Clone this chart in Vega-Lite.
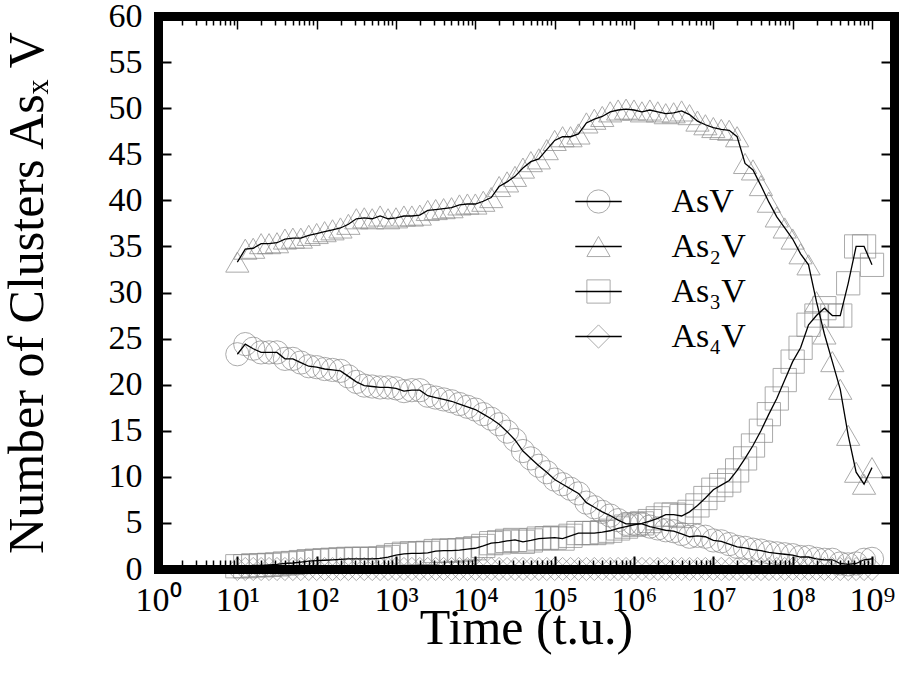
{
"$schema": "https://vega.github.io/schema/vega-lite/v6.json",
"width": 736, "height": 553,
"autosize": {"type": "none"},
"padding": {"left": 158, "top": 16, "right": 5, "bottom": 118},
"background": "white",
"config": {"view": {"stroke": null}, "font": "Liberation Serif",
  "axis": {"labelFont": "Liberation Serif", "titleFont": "Liberation Serif", "labelColor": "black", "titleColor": "black", "tickColor": "black", "domainColor": "black", "grid": false, "titleFontWeight": "normal"},
  "legend": {"labelFont": "Liberation Serif", "labelColor": "black"},
  "text": {"font": "Liberation Serif"}},
"data": {"values": [
{"s":"AsV","t":10,"n":23.3},{"s":"AsV","t":12.59,"n":24.4},{"s":"AsV","t":15.85,"n":23.9},{"s":"AsV","t":19.95,"n":23.5},{"s":"AsV","t":25.12,"n":23.5},{"s":"AsV","t":31.62,"n":23.5},{"s":"AsV","t":39.81,"n":22.8},{"s":"AsV","t":50.12,"n":22.8},{"s":"AsV","t":63.1,"n":22.4},{"s":"AsV","t":79.43,"n":22.0},
{"s":"AsV","t":100,"n":21.9},{"s":"AsV","t":125.9,"n":21.7},{"s":"AsV","t":158.5,"n":21.6},{"s":"AsV","t":199.5,"n":21.5},{"s":"AsV","t":251.2,"n":20.9},{"s":"AsV","t":316.2,"n":20.3},{"s":"AsV","t":398.1,"n":19.9},{"s":"AsV","t":501.2,"n":19.8},{"s":"AsV","t":631,"n":19.7},{"s":"AsV","t":794.3,"n":19.7},
{"s":"AsV","t":1000,"n":19.6},{"s":"AsV","t":1259,"n":19.3},{"s":"AsV","t":1585,"n":19.4},{"s":"AsV","t":1995,"n":19.4},{"s":"AsV","t":2512,"n":18.8},{"s":"AsV","t":3162,"n":18.6},{"s":"AsV","t":3981,"n":18.4},{"s":"AsV","t":5012,"n":18.2},{"s":"AsV","t":6310,"n":17.9},{"s":"AsV","t":7943,"n":17.6},
{"s":"AsV","t":10000,"n":17.3},{"s":"AsV","t":12590,"n":16.8},{"s":"AsV","t":15850,"n":16.3},{"s":"AsV","t":19950,"n":15.7},{"s":"AsV","t":25120,"n":14.9},{"s":"AsV","t":31620,"n":14.0},{"s":"AsV","t":39810,"n":12.8},{"s":"AsV","t":50120,"n":12.0},{"s":"AsV","t":63100,"n":11.2},{"s":"AsV","t":79430,"n":10.5},
{"s":"AsV","t":100000,"n":9.7},{"s":"AsV","t":125900,"n":9.2},{"s":"AsV","t":158500,"n":8.7},{"s":"AsV","t":199500,"n":8.2},{"s":"AsV","t":251200,"n":7.2},{"s":"AsV","t":316200,"n":6.7},{"s":"AsV","t":398100,"n":6.2},{"s":"AsV","t":501200,"n":5.8},{"s":"AsV","t":631000,"n":5.3},{"s":"AsV","t":794300,"n":4.9},
{"s":"AsV","t":1000000,"n":4.9},{"s":"AsV","t":1259000,"n":4.9},{"s":"AsV","t":1585000,"n":4.6},{"s":"AsV","t":1995000,"n":4.4},{"s":"AsV","t":2512000,"n":4.2},{"s":"AsV","t":3162000,"n":4.1},{"s":"AsV","t":3981000,"n":3.8},{"s":"AsV","t":5012000,"n":3.5},{"s":"AsV","t":6310000,"n":3.6},{"s":"AsV","t":7943000,"n":3.5},
{"s":"AsV","t":1e7,"n":3.1},{"s":"AsV","t":1.259e7,"n":3.0},{"s":"AsV","t":1.585e7,"n":2.7},{"s":"AsV","t":1.995e7,"n":2.4},{"s":"AsV","t":2.512e7,"n":2.3},{"s":"AsV","t":3.162e7,"n":2.1},{"s":"AsV","t":3.981e7,"n":2.0},{"s":"AsV","t":5.012e7,"n":1.8},{"s":"AsV","t":6.31e7,"n":1.7},{"s":"AsV","t":7.943e7,"n":1.6},
{"s":"AsV","t":1e8,"n":1.5},{"s":"AsV","t":1.259e8,"n":1.3},{"s":"AsV","t":1.585e8,"n":1.3},{"s":"AsV","t":1.995e8,"n":1.1},{"s":"AsV","t":2.512e8,"n":1.0},{"s":"AsV","t":3.162e8,"n":1.0},{"s":"AsV","t":3.981e8,"n":0.6},{"s":"AsV","t":5.012e8,"n":0.5},{"s":"AsV","t":6.31e8,"n":0.6},{"s":"AsV","t":7.943e8,"n":1.0},
{"s":"AsV","t":1e9,"n":1.1},
{"s":"As₂V","t":10,"n":33.3},{"s":"As₂V","t":12.59,"n":34.7},{"s":"As₂V","t":15.85,"n":34.8},{"s":"As₂V","t":19.95,"n":35.3},{"s":"As₂V","t":25.12,"n":35.3},{"s":"As₂V","t":31.62,"n":35.4},{"s":"As₂V","t":39.81,"n":35.8},{"s":"As₂V","t":50.12,"n":35.9},{"s":"As₂V","t":63.1,"n":35.9},{"s":"As₂V","t":79.43,"n":36.2},
{"s":"As₂V","t":100,"n":36.4},{"s":"As₂V","t":125.9,"n":36.6},{"s":"As₂V","t":158.5,"n":36.8},{"s":"As₂V","t":199.5,"n":37.0},{"s":"As₂V","t":251.2,"n":37.4},{"s":"As₂V","t":316.2,"n":38.0},{"s":"As₂V","t":398.1,"n":38.1},{"s":"As₂V","t":501.2,"n":38.0},{"s":"As₂V","t":631,"n":38.3},{"s":"As₂V","t":794.3,"n":38.0},
{"s":"As₂V","t":1000,"n":38.1},{"s":"As₂V","t":1259,"n":38.3},{"s":"As₂V","t":1585,"n":38.3},{"s":"As₂V","t":1995,"n":38.4},{"s":"As₂V","t":2512,"n":38.9},{"s":"As₂V","t":3162,"n":39.0},{"s":"As₂V","t":3981,"n":39.1},{"s":"As₂V","t":5012,"n":39.2},{"s":"As₂V","t":6310,"n":39.5},{"s":"As₂V","t":7943,"n":39.6},
{"s":"As₂V","t":10000,"n":39.6},{"s":"As₂V","t":12590,"n":39.9},{"s":"As₂V","t":15850,"n":40.3},{"s":"As₂V","t":19950,"n":41.5},{"s":"As₂V","t":25120,"n":42.0},{"s":"As₂V","t":31620,"n":42.6},{"s":"As₂V","t":39810,"n":43.5},{"s":"As₂V","t":50120,"n":44.2},{"s":"As₂V","t":63100,"n":44.5},{"s":"As₂V","t":79430,"n":45.5},
{"s":"As₂V","t":100000,"n":46.5},{"s":"As₂V","t":125900,"n":46.9},{"s":"As₂V","t":158500,"n":46.9},{"s":"As₂V","t":199500,"n":47.2},{"s":"As₂V","t":251200,"n":48.4},{"s":"As₂V","t":316200,"n":48.8},{"s":"As₂V","t":398100,"n":49.1},{"s":"As₂V","t":501200,"n":49.6},{"s":"As₂V","t":631000,"n":49.8},{"s":"As₂V","t":794300,"n":49.9},
{"s":"As₂V","t":1000000,"n":49.8},{"s":"As₂V","t":1259000,"n":49.6},{"s":"As₂V","t":1585000,"n":49.8},{"s":"As₂V","t":1995000,"n":49.6},{"s":"As₂V","t":2512000,"n":49.4},{"s":"As₂V","t":3162000,"n":49.5},{"s":"As₂V","t":3981000,"n":49.7},{"s":"As₂V","t":5012000,"n":49.3},{"s":"As₂V","t":6310000,"n":48.6},{"s":"As₂V","t":7943000,"n":48.2},
{"s":"As₂V","t":1e7,"n":47.9},{"s":"As₂V","t":1.259e7,"n":47.7},{"s":"As₂V","t":1.585e7,"n":47.6},{"s":"As₂V","t":1.995e7,"n":46.9},{"s":"As₂V","t":2.512e7,"n":44.0},{"s":"As₂V","t":3.162e7,"n":43.3},{"s":"As₂V","t":3.981e7,"n":41.6},{"s":"As₂V","t":5.012e7,"n":39.8},{"s":"As₂V","t":6.31e7,"n":38.2},{"s":"As₂V","t":7.943e7,"n":37.0},
{"s":"As₂V","t":1e8,"n":35.8},{"s":"As₂V","t":1.259e8,"n":34.2},{"s":"As₂V","t":1.585e8,"n":33.0},{"s":"As₂V","t":1.995e8,"n":29.0},{"s":"As₂V","t":2.512e8,"n":25.5},{"s":"As₂V","t":3.162e8,"n":22.5},{"s":"As₂V","t":3.981e8,"n":19.5},{"s":"As₂V","t":5.012e8,"n":14.5},{"s":"As₂V","t":6.31e8,"n":10.5},{"s":"As₂V","t":7.943e8,"n":9.2},
{"s":"As₂V","t":1e9,"n":11.0},
{"s":"As₃V","t":10,"n":0.3},{"s":"As₃V","t":12.59,"n":0.3},{"s":"As₃V","t":15.85,"n":0.4},{"s":"As₃V","t":19.95,"n":0.4},{"s":"As₃V","t":25.12,"n":0.45},{"s":"As₃V","t":31.62,"n":0.5},{"s":"As₃V","t":39.81,"n":0.6},{"s":"As₃V","t":50.12,"n":0.65},{"s":"As₃V","t":63.1,"n":0.75},{"s":"As₃V","t":79.43,"n":0.85},
{"s":"As₃V","t":100,"n":0.9},{"s":"As₃V","t":125.9,"n":0.95},{"s":"As₃V","t":158.5,"n":1.0},{"s":"As₃V","t":199.5,"n":1.05},{"s":"As₃V","t":251.2,"n":1.1},{"s":"As₃V","t":316.2,"n":1.1},{"s":"As₃V","t":398.1,"n":1.1},{"s":"As₃V","t":501.2,"n":1.1},{"s":"As₃V","t":631,"n":1.15},{"s":"As₃V","t":794.3,"n":1.3},
{"s":"As₃V","t":1000,"n":1.5},{"s":"As₃V","t":1259,"n":1.65},{"s":"As₃V","t":1585,"n":1.7},{"s":"As₃V","t":1995,"n":1.7},{"s":"As₃V","t":2512,"n":1.75},{"s":"As₃V","t":3162,"n":1.95},{"s":"As₃V","t":3981,"n":2.0},{"s":"As₃V","t":5012,"n":2.0},{"s":"As₃V","t":6310,"n":2.05},{"s":"As₃V","t":7943,"n":2.15},
{"s":"As₃V","t":10000,"n":2.25},{"s":"As₃V","t":12590,"n":2.5},{"s":"As₃V","t":15850,"n":2.8},{"s":"As₃V","t":19950,"n":2.9},{"s":"As₃V","t":25120,"n":3.05},{"s":"As₃V","t":31620,"n":3.15},{"s":"As₃V","t":39810,"n":2.95},{"s":"As₃V","t":50120,"n":3.1},{"s":"As₃V","t":63100,"n":3.3},{"s":"As₃V","t":79430,"n":3.35},
{"s":"As₃V","t":100000,"n":3.4},{"s":"As₃V","t":125900,"n":3.3},{"s":"As₃V","t":158500,"n":3.6},{"s":"As₃V","t":199500,"n":3.9},{"s":"As₃V","t":251200,"n":3.9},{"s":"As₃V","t":316200,"n":3.9},{"s":"As₃V","t":398100,"n":4.0},{"s":"As₃V","t":501200,"n":4.15},{"s":"As₃V","t":631000,"n":4.4},{"s":"As₃V","t":794300,"n":4.6},
{"s":"As₃V","t":1000000,"n":4.8},{"s":"As₃V","t":1259000,"n":4.95},{"s":"As₃V","t":1585000,"n":5.2},{"s":"As₃V","t":1995000,"n":5.5},{"s":"As₃V","t":2512000,"n":5.9},{"s":"As₃V","t":3162000,"n":5.9},{"s":"As₃V","t":3981000,"n":5.75},{"s":"As₃V","t":5012000,"n":6.2},{"s":"As₃V","t":6310000,"n":6.9},{"s":"As₃V","t":7943000,"n":7.7},
{"s":"As₃V","t":1e7,"n":8.6},{"s":"As₃V","t":1.259e7,"n":9.1},{"s":"As₃V","t":1.585e7,"n":9.6},{"s":"As₃V","t":1.995e7,"n":10.7},{"s":"As₃V","t":2.512e7,"n":12.0},{"s":"As₃V","t":3.162e7,"n":13.4},{"s":"As₃V","t":3.981e7,"n":15.0},{"s":"As₃V","t":5.012e7,"n":16.8},{"s":"As₃V","t":6.31e7,"n":18.5},{"s":"As₃V","t":7.943e7,"n":20.5},
{"s":"As₃V","t":1e8,"n":22.5},{"s":"As₃V","t":1.259e8,"n":24.0},{"s":"As₃V","t":1.585e8,"n":26.5},{"s":"As₃V","t":1.995e8,"n":27.5},{"s":"As₃V","t":2.512e8,"n":28.3},{"s":"As₃V","t":3.162e8,"n":27.5},{"s":"As₃V","t":3.981e8,"n":27.5},{"s":"As₃V","t":5.012e8,"n":31.0},{"s":"As₃V","t":6.31e8,"n":35.0},{"s":"As₃V","t":7.943e8,"n":35.0},
{"s":"As₃V","t":1e9,"n":33.0},
{"s":"As₄V","t":10,"n":0},{"s":"As₄V","t":12.59,"n":0},{"s":"As₄V","t":15.85,"n":0},{"s":"As₄V","t":19.95,"n":0},{"s":"As₄V","t":25.12,"n":0},{"s":"As₄V","t":31.62,"n":0},{"s":"As₄V","t":39.81,"n":0},{"s":"As₄V","t":50.12,"n":0},{"s":"As₄V","t":63.1,"n":0},{"s":"As₄V","t":79.43,"n":0},
{"s":"As₄V","t":100,"n":0},{"s":"As₄V","t":125.9,"n":0},{"s":"As₄V","t":158.5,"n":0},{"s":"As₄V","t":199.5,"n":0},{"s":"As₄V","t":251.2,"n":0},{"s":"As₄V","t":316.2,"n":0},{"s":"As₄V","t":398.1,"n":0},{"s":"As₄V","t":501.2,"n":0},{"s":"As₄V","t":631,"n":0},{"s":"As₄V","t":794.3,"n":0},
{"s":"As₄V","t":1000,"n":0},{"s":"As₄V","t":1259,"n":0},{"s":"As₄V","t":1585,"n":0},{"s":"As₄V","t":1995,"n":0},{"s":"As₄V","t":2512,"n":0},{"s":"As₄V","t":3162,"n":0},{"s":"As₄V","t":3981,"n":0},{"s":"As₄V","t":5012,"n":0},{"s":"As₄V","t":6310,"n":0},{"s":"As₄V","t":7943,"n":0},
{"s":"As₄V","t":10000,"n":0},{"s":"As₄V","t":12590,"n":0},{"s":"As₄V","t":15850,"n":0},{"s":"As₄V","t":19950,"n":0},{"s":"As₄V","t":25120,"n":0},{"s":"As₄V","t":31620,"n":0},{"s":"As₄V","t":39810,"n":0},{"s":"As₄V","t":50120,"n":0},{"s":"As₄V","t":63100,"n":0},{"s":"As₄V","t":79430,"n":0},
{"s":"As₄V","t":100000,"n":0},{"s":"As₄V","t":125900,"n":0},{"s":"As₄V","t":158500,"n":0},{"s":"As₄V","t":199500,"n":0},{"s":"As₄V","t":251200,"n":0},{"s":"As₄V","t":316200,"n":0},{"s":"As₄V","t":398100,"n":0},{"s":"As₄V","t":501200,"n":0},{"s":"As₄V","t":631000,"n":0},{"s":"As₄V","t":794300,"n":0},
{"s":"As₄V","t":1000000,"n":0},{"s":"As₄V","t":1259000,"n":0},{"s":"As₄V","t":1585000,"n":0},{"s":"As₄V","t":1995000,"n":0},{"s":"As₄V","t":2512000,"n":0},{"s":"As₄V","t":3162000,"n":0},{"s":"As₄V","t":3981000,"n":0},{"s":"As₄V","t":5012000,"n":0},{"s":"As₄V","t":6310000,"n":0},{"s":"As₄V","t":7943000,"n":0},
{"s":"As₄V","t":1e7,"n":0},{"s":"As₄V","t":1.259e7,"n":0},{"s":"As₄V","t":1.585e7,"n":0},{"s":"As₄V","t":1.995e7,"n":0},{"s":"As₄V","t":2.512e7,"n":0},{"s":"As₄V","t":3.162e7,"n":0},{"s":"As₄V","t":3.981e7,"n":0},{"s":"As₄V","t":5.012e7,"n":0},{"s":"As₄V","t":6.31e7,"n":0},{"s":"As₄V","t":7.943e7,"n":0},
{"s":"As₄V","t":1e8,"n":0},{"s":"As₄V","t":1.259e8,"n":0},{"s":"As₄V","t":1.585e8,"n":0},{"s":"As₄V","t":1.995e8,"n":0},{"s":"As₄V","t":2.512e8,"n":0},{"s":"As₄V","t":3.162e8,"n":0},{"s":"As₄V","t":3.981e8,"n":0},{"s":"As₄V","t":5.012e8,"n":0},{"s":"As₄V","t":6.31e8,"n":0},{"s":"As₄V","t":7.943e8,"n":0},
{"s":"As₄V","t":1e9,"n":0}
]},
"layer": [
{
"mark": {"type": "point", "filled": false, "color": "#888888", "size": 540, "strokeWidth": 1, "clip": false},
"encoding": {
  "x": {"field": "t", "type": "quantitative", "scale": {"type": "log", "domain": [1, 1.894e9], "nice": false},
    "axis": {"orient": "bottom", "values": [1,10,100,1000,10000,100000,1000000,1e7,1e8,1e9], "tickSize": -13, "tickWidth": 2,
      "labelExpr": "'10' + ['⁰','¹','²','³','⁴','⁵','⁶','⁷','⁸','⁹'][round(log(datum.value)/LN10)]",
      "labelFont": "Liberation Serif", "labelFontSize": 34, "labelPadding": 27, "labelFlush": false, "labelOverlap": false,
      "domain": true, "domainWidth": 9, "domainCap": "square",
      "title": "Time (t.u.)", "titleFont": "Liberation Serif", "titleFontSize": 50, "titlePadding": -14, "zindex": 1}},
  "y": {"field": "n", "type": "quantitative", "scale": {"domain": [0, 60], "nice": false, "zero": false},
    "axis": {"orient": "left", "values": [0,5,10,15,20,25,30,35,40,45,50,55,60], "tickSize": -13, "tickWidth": 2,
      "labelFont": "Liberation Serif", "labelFontSize": 34, "labelPadding": 29, "labelFlush": false, "labelOverlap": false,
      "domain": true, "domainWidth": 9, "domainCap": "square",
      "title": "Number of Clusters Asₓ V", "titleFont": "Liberation Serif", "titleFontSize": 50, "titlePadding": 56, "zindex": 1}},
  "shape": {"field": "s", "type": "nominal",
    "scale": {"domain": ["AsV","As₂V","As₃V","As₄V"], "range": ["circle","triangle-up","square","diamond"]},
    "legend": {"orient": "none", "legendX": 423.5, "legendY": 168.5, "title": null, "padding": 0,
      "symbolSize": 540, "symbolStrokeColor": "#888888", "symbolFillColor": "transparent", "symbolStrokeWidth": 1,
      "labelFont": "Liberation Serif", "labelFontSize": 34, "labelOpacity": 0, "labelOffset": 56, "rowPadding": 11, "zindex": 1}}
}
},
{
"mark": {"type": "line", "strokeWidth": 1.3, "clip": false},
"encoding": {
  "x": {"field": "t", "type": "quantitative", "scale": {"type": "log", "domain": [1, 1.894e9], "nice": false},
    "axis": {"orient": "bottom", "values": [2,3,4,5,6,7,8,9,20,30,40,50,60,70,80,90,200,300,400,500,600,700,800,900,2000,3000,4000,5000,6000,7000,8000,9000,20000,30000,40000,50000,60000,70000,80000,90000,200000,300000,400000,500000,600000,700000,800000,900000,2000000,3000000,4000000,5000000,6000000,7000000,8000000,9000000,2e7,3e7,4e7,5e7,6e7,7e7,8e7,9e7,2e8,3e8,4e8,5e8,6e8,7e8,8e8,9e8],
      "tickSize": -9, "tickWidth": 1.5, "labels": false, "domain": false, "title": null, "zindex": 1}},
  "y": {"field": "n", "type": "quantitative", "scale": {"domain": [0, 60], "nice": false, "zero": false},
    "axis": {"orient": "right", "values": [0,5,10,15,20,25,30,35,40,45,50,55,60], "tickSize": -13, "tickWidth": 2,
      "labels": false, "domain": true, "domainWidth": 9, "domainCap": "square", "title": null, "zindex": 1}},
  "color": {"field": "s", "type": "nominal",
    "scale": {"domain": ["AsV","As₂V","As₃V","As₄V","-"], "range": ["black","black","black","black","black"]},
    "legend": {"orient": "none", "legendX": 423.5, "legendY": 168.5, "title": null, "padding": 0,
      "values": ["AsV","As₂V","As₃V","As₄V"],
      "symbolType": "M-2,0L2,0", "symbolSize": 540, "symbolStrokeWidth": 1.3, "symbolStrokeColor": "black",
      "labelFont": "Liberation Serif", "labelFontSize": 34, "labelOffset": 56, "rowPadding": 11, "zindex": 2}}
}
},
{
"mark": {"type": "point", "opacity": 0, "clip": false},
"encoding": {
  "x": {"field": "t", "type": "quantitative", "scale": {"type": "log", "domain": [1, 1.894e9], "nice": false},
    "axis": {"orient": "top", "values": [1,2,3,4,5,6,7,8,9,10,20,30,40,50,60,70,80,90,100,200,300,400,500,600,700,800,900,1000,2000,3000,4000,5000,6000,7000,8000,9000,10000,20000,30000,40000,50000,60000,70000,80000,90000,100000,200000,300000,400000,500000,600000,700000,800000,900000,1000000,2000000,3000000,4000000,5000000,6000000,7000000,8000000,9000000,1e7,2e7,3e7,4e7,5e7,6e7,7e7,8e7,9e7,1e8,2e8,3e8,4e8,5e8,6e8,7e8,8e8,9e8,1e9],
      "tickSize": {"condition": {"test": "abs(log(datum.value)/LN10 - round(log(datum.value)/LN10)) < 0.01", "value": -13}, "value": -9},
      "tickWidth": 1.5, "labels": false, "domain": true, "domainWidth": 9, "domainCap": "square", "title": null, "zindex": 1}},
  "y": {"field": "n", "type": "quantitative", "scale": {"domain": [0, 60], "nice": false, "zero": false}, "axis": null}
}
}
],
"resolve": {"axis": {"x": "independent", "y": "independent"}}
}
